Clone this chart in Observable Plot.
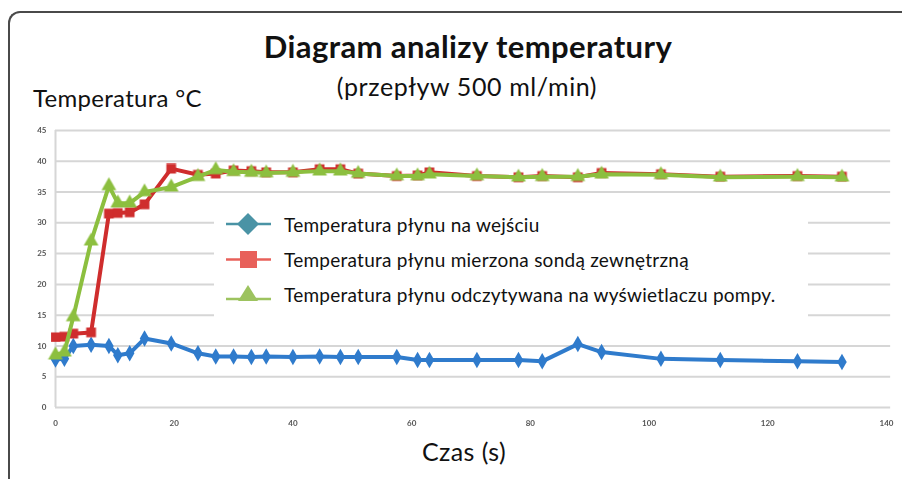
<!DOCTYPE html>
<html>
<head>
<meta charset="utf-8">
<script src="https://cdn.jsdelivr.net/npm/d3@7"></script>
<script src="https://cdn.jsdelivr.net/npm/@observablehq/plot@0.6"></script>
<style>
  html, body { margin: 0; padding: 0; background: #fff; }
  #wrap { position: relative; width: 902px; height: 479px; overflow: hidden; font-family: Lato, "Open Sans", sans-serif; color: #111; }
  #frame { position: absolute; left: 8px; top: 11px; width: 920px; height: 500px; border-left: 2px solid #4a4a4a; border-top: 2px solid #4a4a4a; border-top-left-radius: 12px; }
  #plot { position: absolute; left: 0; top: 0; }
  #plot svg g[aria-label="line"], #plot svg g[aria-label="dot"] { filter: blur(0.5px); }
  #plot svg g[aria-label="y-axis tick label"], #plot svg g[aria-label="x-axis tick label"] { filter: blur(0.35px); }
  .t { position: absolute; white-space: nowrap; line-height: 1; }
  #legend { position: absolute; left: 214px; top: 202px; width: 594px; height: 116px; background: #fff; }
  .row { position: absolute; left: 10px; height: 30px; display: flex; align-items: center; }
  .row svg { margin-right: 10px; }
  .row span { font-size: 19px; letter-spacing: 0.25px; }
</style>
</head>
<body>
<div id="wrap">
  <div id="frame"></div>
  <div id="plot"></div>
  <div class="t" id="title" style="left:0;width:936px;text-align:center;top:31px;font-size:31px;font-weight:bold;letter-spacing:0.4px;">Diagram analizy temperatury</div>
  <div class="t" id="subtitle" style="left:0;width:934px;text-align:center;top:74px;font-size:25px;letter-spacing:0.6px;">(przepływ 500 ml/min)</div>
  <div class="t" id="ylabel" style="left:33px;top:86px;font-size:24px;letter-spacing:0.3px;">Temperatura °C</div>
  <div class="t" id="xlabel" style="left:0;width:928px;text-align:center;top:439px;font-size:25px;letter-spacing:0.4px;">Czas (s)</div>
  <div id="legend"></div>
</div>
<script>
// ---- data ----
const time = [0, 1.5, 3, 6, 9, 10.5, 12.5, 15, 19.5, 24, 27, 30, 33, 35.5, 40, 44.5, 48, 51, 57.5, 61, 63, 71, 78, 82, 88, 92, 102, 112, 125, 132.5];
const inlet = [7.8, 7.9, 10, 10.2, 10, 8.5, 8.8, 11.2, 10.4, 8.8, 8.3, 8.3, 8.2, 8.3, 8.2, 8.3, 8.2, 8.2, 8.2, 7.7, 7.7, 7.7, 7.7, 7.5, 10.3, 9, 7.9, 7.7, 7.5, 7.4];
const probe = [11.4, 11.5, 12, 12.2, 31.5, 31.6, 31.7, 33, 38.8, 37.8, 38, 38.5, 38.4, 38.2, 38.2, 38.7, 38.7, 38, 37.6, 37.7, 38.2, 37.6, 37.4, 37.6, 37.4, 38.1, 37.9, 37.5, 37.6, 37.5];
const display = [8.5, 9, 14.7, 27, 36, 33.2, 33.2, 35, 35.8, 37.5, 38.6, 38.3, 38.2, 38.1, 38.2, 38.4, 38.4, 38, 37.6, 37.6, 37.9, 37.6, 37.4, 37.5, 37.5, 37.9, 37.8, 37.4, 37.5, 37.4];
const seriesNames = [
  "Temperatura płynu na wejściu",
  "Temperatura płynu mierzona sondą zewnętrzną",
  "Temperatura płynu odczytywana na wyświetlaczu pompy."
];
const yTicks = [0, 5, 10, 15, 20, 25, 30, 35, 40, 45];
const xTicks = [0, 20, 40, 60, 80, 100, 120, 140];

const lineColors = ["#2f7bcc", "#cf2d2d", "#8cbf3f"];
const legendColors = ["#4a93a5", "#e8605a", "#9dc35f"];
const symbols = ["diamond", "square", "triangle"];

const series = [inlet, probe, display].map((vals, i) =>
  time.map((t, j) => ({t, v: vals[j], s: seriesNames[i]}))
);

const marks = [
  Plot.ruleY(yTicks, {x1: 0, x2: 140.7, stroke: "#d6d6d6", strokeWidth: 2}),
  Plot.ruleX([0], {y1: 0, y2: 45, stroke: "#d6d6d6", strokeWidth: 2}),
  Plot.axisY(yTicks, {tickSize: 0, tickPadding: 9, fontSize: 8, fontWeight: "bold", fill: "#555", label: null}),
  Plot.axisX(xTicks, {tickSize: 0, tickPadding: 13, fontSize: 8, fontWeight: "bold", fill: "#555", label: null})
];
series.forEach((data, i) => {
  marks.push(Plot.line(data, {x: "t", y: "v", stroke: lineColors[i], strokeWidth: 4}));
  marks.push(Plot.dot(data, {x: "t", y: "v", symbol: symbols[i], fill: lineColors[i], r: i === 0 ? 5 : 5.5, stroke: "none"}));
});

const chart = Plot.plot({
  width: 902,
  height: 479,
  marginTop: 130,
  marginBottom: 72,
  marginLeft: 55,
  marginRight: 16,
  x: {domain: [0, 140]},
  y: {domain: [0, 45]},
  style: {fontFamily: "Lato, sans-serif", background: "transparent"},
  marks
});
document.getElementById("plot").appendChild(chart);

// legend
const legend = document.getElementById("legend");
const rowTops = [7, 42, 77];
seriesNames.forEach((name, i) => {
  const row = document.createElement("div");
  row.className = "row";
  row.style.top = rowTops[i] + "px";
  const c = legendColors[i];
  let shape;
  if (i === 0) shape = `<path d="M24,3 L35,14 L24,25 L13,14 Z" fill="${c}"/>`;
  else if (i === 1) shape = `<rect x="16" y="6" width="17" height="17" fill="${c}"/>`;
  else shape = `<path d="M24,5 L34,21 L14,21 Z" fill="${c}"/>`;
  const ly = i === 0 ? 14 : (i === 1 ? 14.5 : 19);
  row.innerHTML = `<svg width="50" height="28"><line x1="2" x2="47" y1="${ly}" y2="${ly}" stroke="${c}" stroke-width="2.5"/>${shape}</svg><span>${name}</span>`;
  legend.appendChild(row);
});
</script>
</body>
</html>
